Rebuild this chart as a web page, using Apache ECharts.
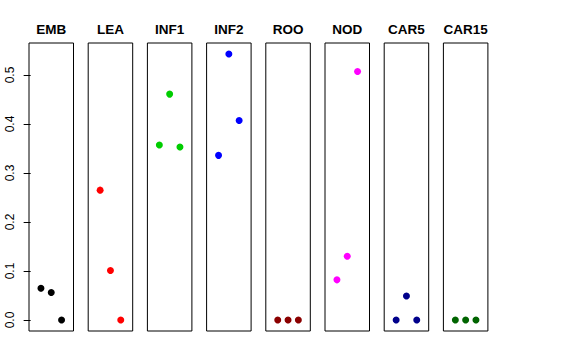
<!DOCTYPE html>
<html><head><meta charset="utf-8">
<script src="https://cdn.jsdelivr.net/npm/echarts@6/dist/echarts.min.js"></script>
<style>html,body{margin:0;padding:0;background:#fff}#c{width:576px;height:360px}</style>
</head><body><div id="c"></div>
<script>
const panels = ['EMB','LEA','INF1','INF2','ROO','NOD','CAR5','CAR15'];
const colors = ['#000000','#FF0000','#00CD00','#0000FF','#8B0000','#FF00FF','#00008B','#006400'];
const xPos = [1, 2, 3];
const EMB = [0.065, 0.056, 0.0];
const LEA = [0.265, 0.101, 0.0];
const INF1 = [0.357, 0.461, 0.353];
const INF2 = [0.336, 0.543, 0.407];
const ROO = [0.0, 0.0, 0.0];
const NOD = [0.082, 0.130, 0.507];
const CAR5 = [0.0, 0.049, 0.0];
const CAR15 = [0.0, 0.0, 0.0];
const values = [EMB, LEA, INF1, INF2, ROO, NOD, CAR5, CAR15];
const yTicks = [0.0, 0.1, 0.2, 0.3, 0.4, 0.5];

const yMin = -0.0224, yMax = 0.5653;
const panelLeft0 = 29, panelStep = 59.2, panelW = 44.5, panelTop = 43, panelH = 288;

const grids = [], xAxes = [], yAxes = [], series = [], titles = [];
panels.forEach((name, i) => {
  const l = panelLeft0 + i * panelStep;
  grids.push({left: l, top: panelTop, width: panelW, height: panelH, show: true, borderColor: '#000', borderWidth: 1, backgroundColor: 'transparent'});
  xAxes.push({type: 'value', gridIndex: i, min: -0.16, max: 4.16, show: false});
  yAxes.push({
    type: 'value', gridIndex: i, min: yMin, max: yMax, show: i === 0,
    splitLine: {show: false},
    axisLine: {show: false},
    axisTick: {show: i === 0, length: 7, lineStyle: {color: '#000'}, customValues: yTicks},
    axisLabel: {show: i === 0, rotate: 90, margin: 13, color: '#000', fontSize: 12,
      fontFamily: 'Liberation Sans, Arial, sans-serif', customValues: yTicks,
      formatter: v => v.toFixed(1)}
  });
  series.push({
    type: 'scatter', xAxisIndex: i, yAxisIndex: i, symbolSize: 7,
    itemStyle: {color: colors[i], opacity: 1}, silent: true,
    data: values[i].map((v, j) => [xPos[j], v])
  });
  titles.push({text: name, left: l + panelW / 2, top: 22, textAlign: 'center', padding: 0,
    textStyle: {fontSize: 13.5, fontWeight: 'bold', color: '#000', fontFamily: 'Liberation Sans, Arial, sans-serif'}});
});

const chart = echarts.init(document.getElementById('c'), null, {renderer: 'svg'});
chart.setOption({
  animation: false,
  title: titles,
  grid: grids, xAxis: xAxes, yAxis: yAxes, series: series
});
</script></body></html>
